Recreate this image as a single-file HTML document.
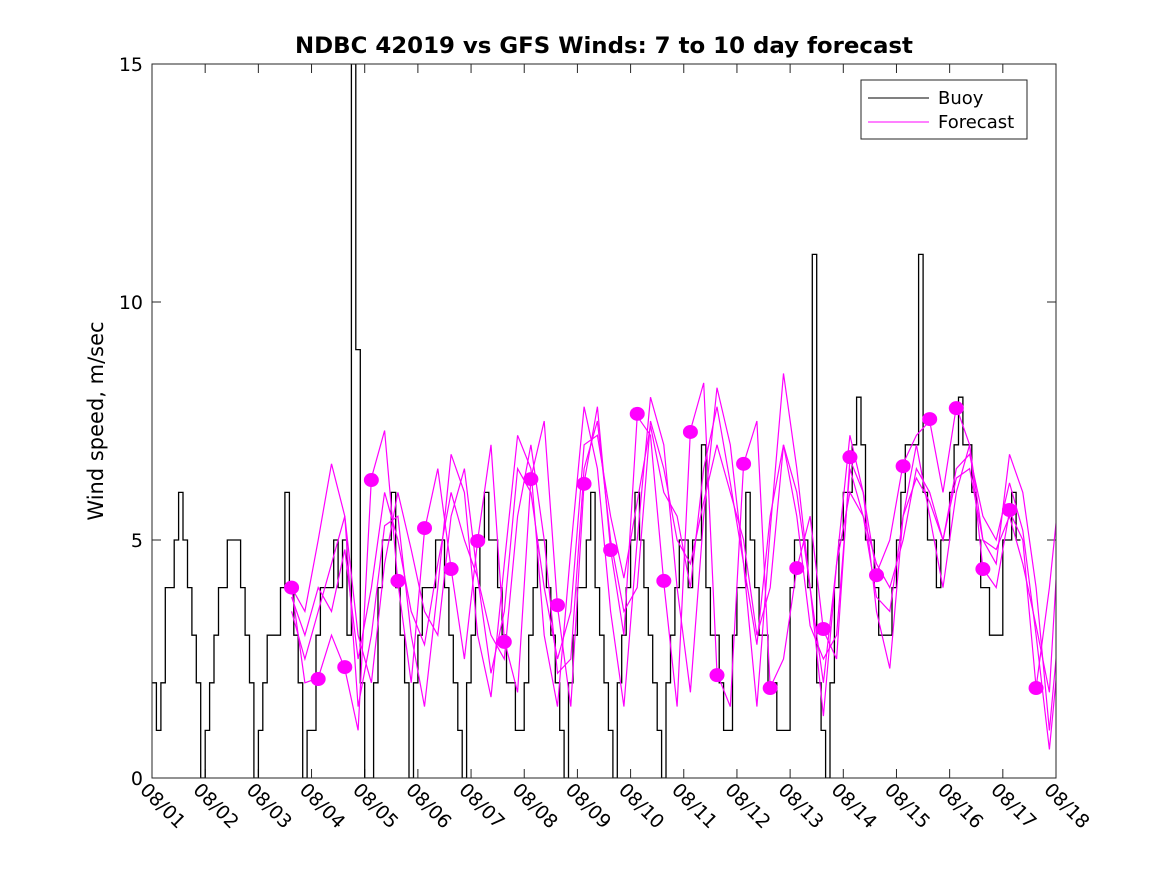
<!DOCTYPE html>
<html><head><meta charset="utf-8"><style>
html,body{margin:0;padding:0;background:#fff;}
svg{display:block;font-family:"DejaVu Sans","Liberation Sans",sans-serif;}
</style></head><body>
<svg id="chart" width="1167" height="875">
<defs><clipPath id="pc"><rect x="152" y="64" width="904" height="714"/></clipPath></defs>
<rect x="0" y="0" width="1167" height="875" fill="#fff"/>
<rect x="152" y="64" width="904" height="714" fill="#fff"/>
<text x="604" y="53" text-anchor="middle" font-size="22" font-weight="bold" textLength="618" lengthAdjust="spacingAndGlyphs">NDBC 42019 vs GFS Winds: 7 to 10 day forecast</text>
<text transform="translate(103,421) rotate(-90)" text-anchor="middle" font-size="21">Wind speed, m/sec</text>
<g id="axes"></g>
<g id="series" clip-path="url(#pc)"></g>
<rect x="152" y="64" width="904" height="714" fill="none" stroke="#262626" stroke-width="1"/>
<g>
<rect x="861" y="80" width="166" height="59" fill="#fff" stroke="#262626"/>
<line x1="868" y1="98" x2="929" y2="98" stroke="#000"/>
<text x="938" y="104" font-size="18">Buoy</text>
<line x1="868" y1="122" x2="929" y2="122" stroke="#f0f"/>
<text x="938" y="128" font-size="18">Forecast</text>
</g>
</svg>
<script>
const xTickLabels=["08/01","08/02","08/03","08/04","08/05","08/06","08/07","08/08","08/09","08/10","08/11","08/12","08/13","08/14","08/15","08/16","08/17","08/18"];
const yTicks=[0,5,10,15];
// buoy: 2-hourly values starting 08/01 00Z
const buoy=[2,1,2,4,4,5,6,5,4,3,2,0,
1,2,3,4,4,5,5,5,4,3,2,0,
1,2,3,3,3,4,6,4,3,2,0,1,
1,3,4,4,4,5,4,5,3,15,9,2,
0,0,2,4,5,5,6,4,3,2,0,2,
3,4,4,4,5,5,4,3,2,1,0,2,
3,4,5,6,5,5,4,3,2,2,1,1,
2,3,4,5,5,4,3,2,1,0,2,3,
4,4,5,6,4,3,2,1,0,2,3,4,
5,6,5,4,3,2,1,0,2,3,4,5,
5,4,5,5,7,4,3,3,2,1,1,3,
4,4,6,5,4,3,3,2,2,1,1,1,
4,5,5,5,4,11,2,1,0,2,4,5,
6,6,7,8,7,5,5,4,3,3,3,4,
5,6,7,7,7,11,6,5,5,4,5,5,
6,7,8,7,7,6,5,4,4,3,3,3,
5,5,6,5];
const buoyStart=0, buoyStep=1/12;
// forecast series: 6-hourly from day 2.625
const fcStart=2.625, fcStep=0.25;
const fcA=[4.0,2.0,2.1,3.0,2.3,1.0,6.3,7.3,4.1,2.0,5.2,6.5,4.4,2.5,5.0,7.0,2.9,1.8,6.3,7.5,3.6,1.5,6.2,7.8,4.8,3.0,7.6,7.2,4.1,1.5,7.3,8.3,2.2,1.5,6.6,7.5,1.9,2.5,4.4,5.5,3.1,2.5,6.7,6.0,4.3,5.0,6.6,7.2,7.5,6.0,7.8,7.0,4.4,4.0,5.6,5.0,1.9,4.0,6.7];
const fcB=[4.0,3.5,5.0,6.6,5.5,1.5,3.0,5.3,5.5,3.0,1.5,4.0,6.8,6.0,3.0,1.7,4.5,7.2,6.5,3.0,1.5,4.8,7.8,6.5,3.5,1.5,5.0,8.0,7.0,4.0,1.8,5.5,8.2,7.0,4.5,1.5,5.2,8.5,6.5,4.0,1.3,4.5,7.2,6.0,3.5,2.3,5.5,7.0,5.5,4.0,6.0,7.0,5.0,4.5,6.8,6.0,4.0,1.0,4.0];
const fcC=[3.5,2.5,3.5,4.5,5.5,3.0,2.0,4.5,6.0,4.8,3.5,3.0,5.5,6.5,4.2,3.0,2.5,5.5,7.0,5.0,2.2,2.5,6.5,7.5,5.0,3.5,4.0,7.5,6.5,5.0,4.5,5.8,7.0,6.0,5.0,3.0,4.0,7.0,5.5,3.2,2.5,3.0,6.5,5.5,3.8,3.5,5.5,6.3,5.8,5.0,6.5,6.8,5.5,5.0,6.2,5.2,3.0,0.6,3.5];
const fcD=[3.8,3.0,4.0,3.5,4.8,2.5,4.0,6.0,5.0,3.5,2.8,4.5,6.0,5.0,4.2,2.2,3.5,6.5,6.0,4.0,2.5,3.5,7.0,7.2,5.5,4.2,5.8,7.4,6.0,5.5,4.0,6.5,7.8,6.2,4.5,2.8,5.5,7.0,6.0,4.0,2.0,4.5,6.0,5.5,4.5,4.0,5.0,6.5,6.0,5.0,6.3,6.5,5.0,4.8,5.5,4.5,3.2,1.8,6.5];
// dots: 12-hourly from day 2.625
const dotStart=2.625, dotStep=0.5;
const dots=[4.0,2.08,2.33,6.26,4.14,5.25,4.39,4.98,2.86,6.28,3.63,6.18,4.79,7.65,4.14,7.27,2.16,6.6,1.89,4.41,3.13,6.74,4.26,6.55,7.54,7.77,4.39,5.63,1.89];

const X0=152,X1=1056,Y0=778,Y1=64,DAYS=17,VMAX=15;
const xs=d=>X0+(X1-X0)*d/DAYS;
const ys=v=>Y0-(Y0-Y1)*v/VMAX;
const NS="http://www.w3.org/2000/svg";
const axes=document.getElementById('axes'), ser=document.getElementById('series');
function mk(tag,attrs,parent){const e=document.createElementNS(NS,tag);for(const k in attrs)e.setAttribute(k,attrs[k]);parent.appendChild(e);return e;}

xTickLabels.forEach((lab,i)=>{
  const x=xs(i);
  const t1=mk('line',{x1:x,y1:Y0,x2:x,y2:Y0-9,stroke:'#262626'},axes);
  
  
  const t2=mk('line',{x1:x,y1:Y1,x2:x,y2:Y1+9,stroke:'#262626'},axes);
  
  
  const tx=mk('text',{x:0,y:0,'font-size':19,transform:`translate(${x-13},${Y0+13}) rotate(45)`},axes);
  tx.textContent=lab;
  
  
});
yTicks.forEach(v=>{
  const y=ys(v);
  const t1=mk('line',{x1:X0,y1:y,x2:X0+9,y2:y,stroke:'#262626'},axes);
  
  
  const t2=mk('line',{x1:X1,y1:y,x2:X1-9,y2:y,stroke:'#262626'},axes);
  
  
  const tx=mk('text',{x:X0-9,y:y+7,'text-anchor':'end','font-size':19},axes);
  tx.textContent=v;
  
  
});

let d='';
buoy.forEach((v,i)=>{
  const xa=xs(buoyStart+i*buoyStep), xb=xs(buoyStart+(i+1)*buoyStep), y=ys(v);
  d+=(i===0?'M':'L')+xa.toFixed(1)+','+y.toFixed(1)+'L'+xb.toFixed(1)+','+y.toFixed(1);
});
const bp=mk('path',{d:d,fill:'none',stroke:'#000','stroke-width':1.3},ser);



[fcA,fcB,fcC,fcD].forEach((arr,k)=>{
  const pd=arr.map((v,i)=>(i?'L':'M')+xs(fcStart+i*fcStep).toFixed(1)+','+ys(v).toFixed(1)).join('');
  const p=mk('path',{d:pd,fill:'none',stroke:'#f0f','stroke-width':1.2},ser);
  
  
});
dots.forEach((v,i)=>{
  const c=mk('ellipse',{cx:xs(dotStart+i*dotStep),cy:ys(v),rx:7.5,ry:7,fill:'#f0f'},ser);
  
  
});
</script>
</body></html>
